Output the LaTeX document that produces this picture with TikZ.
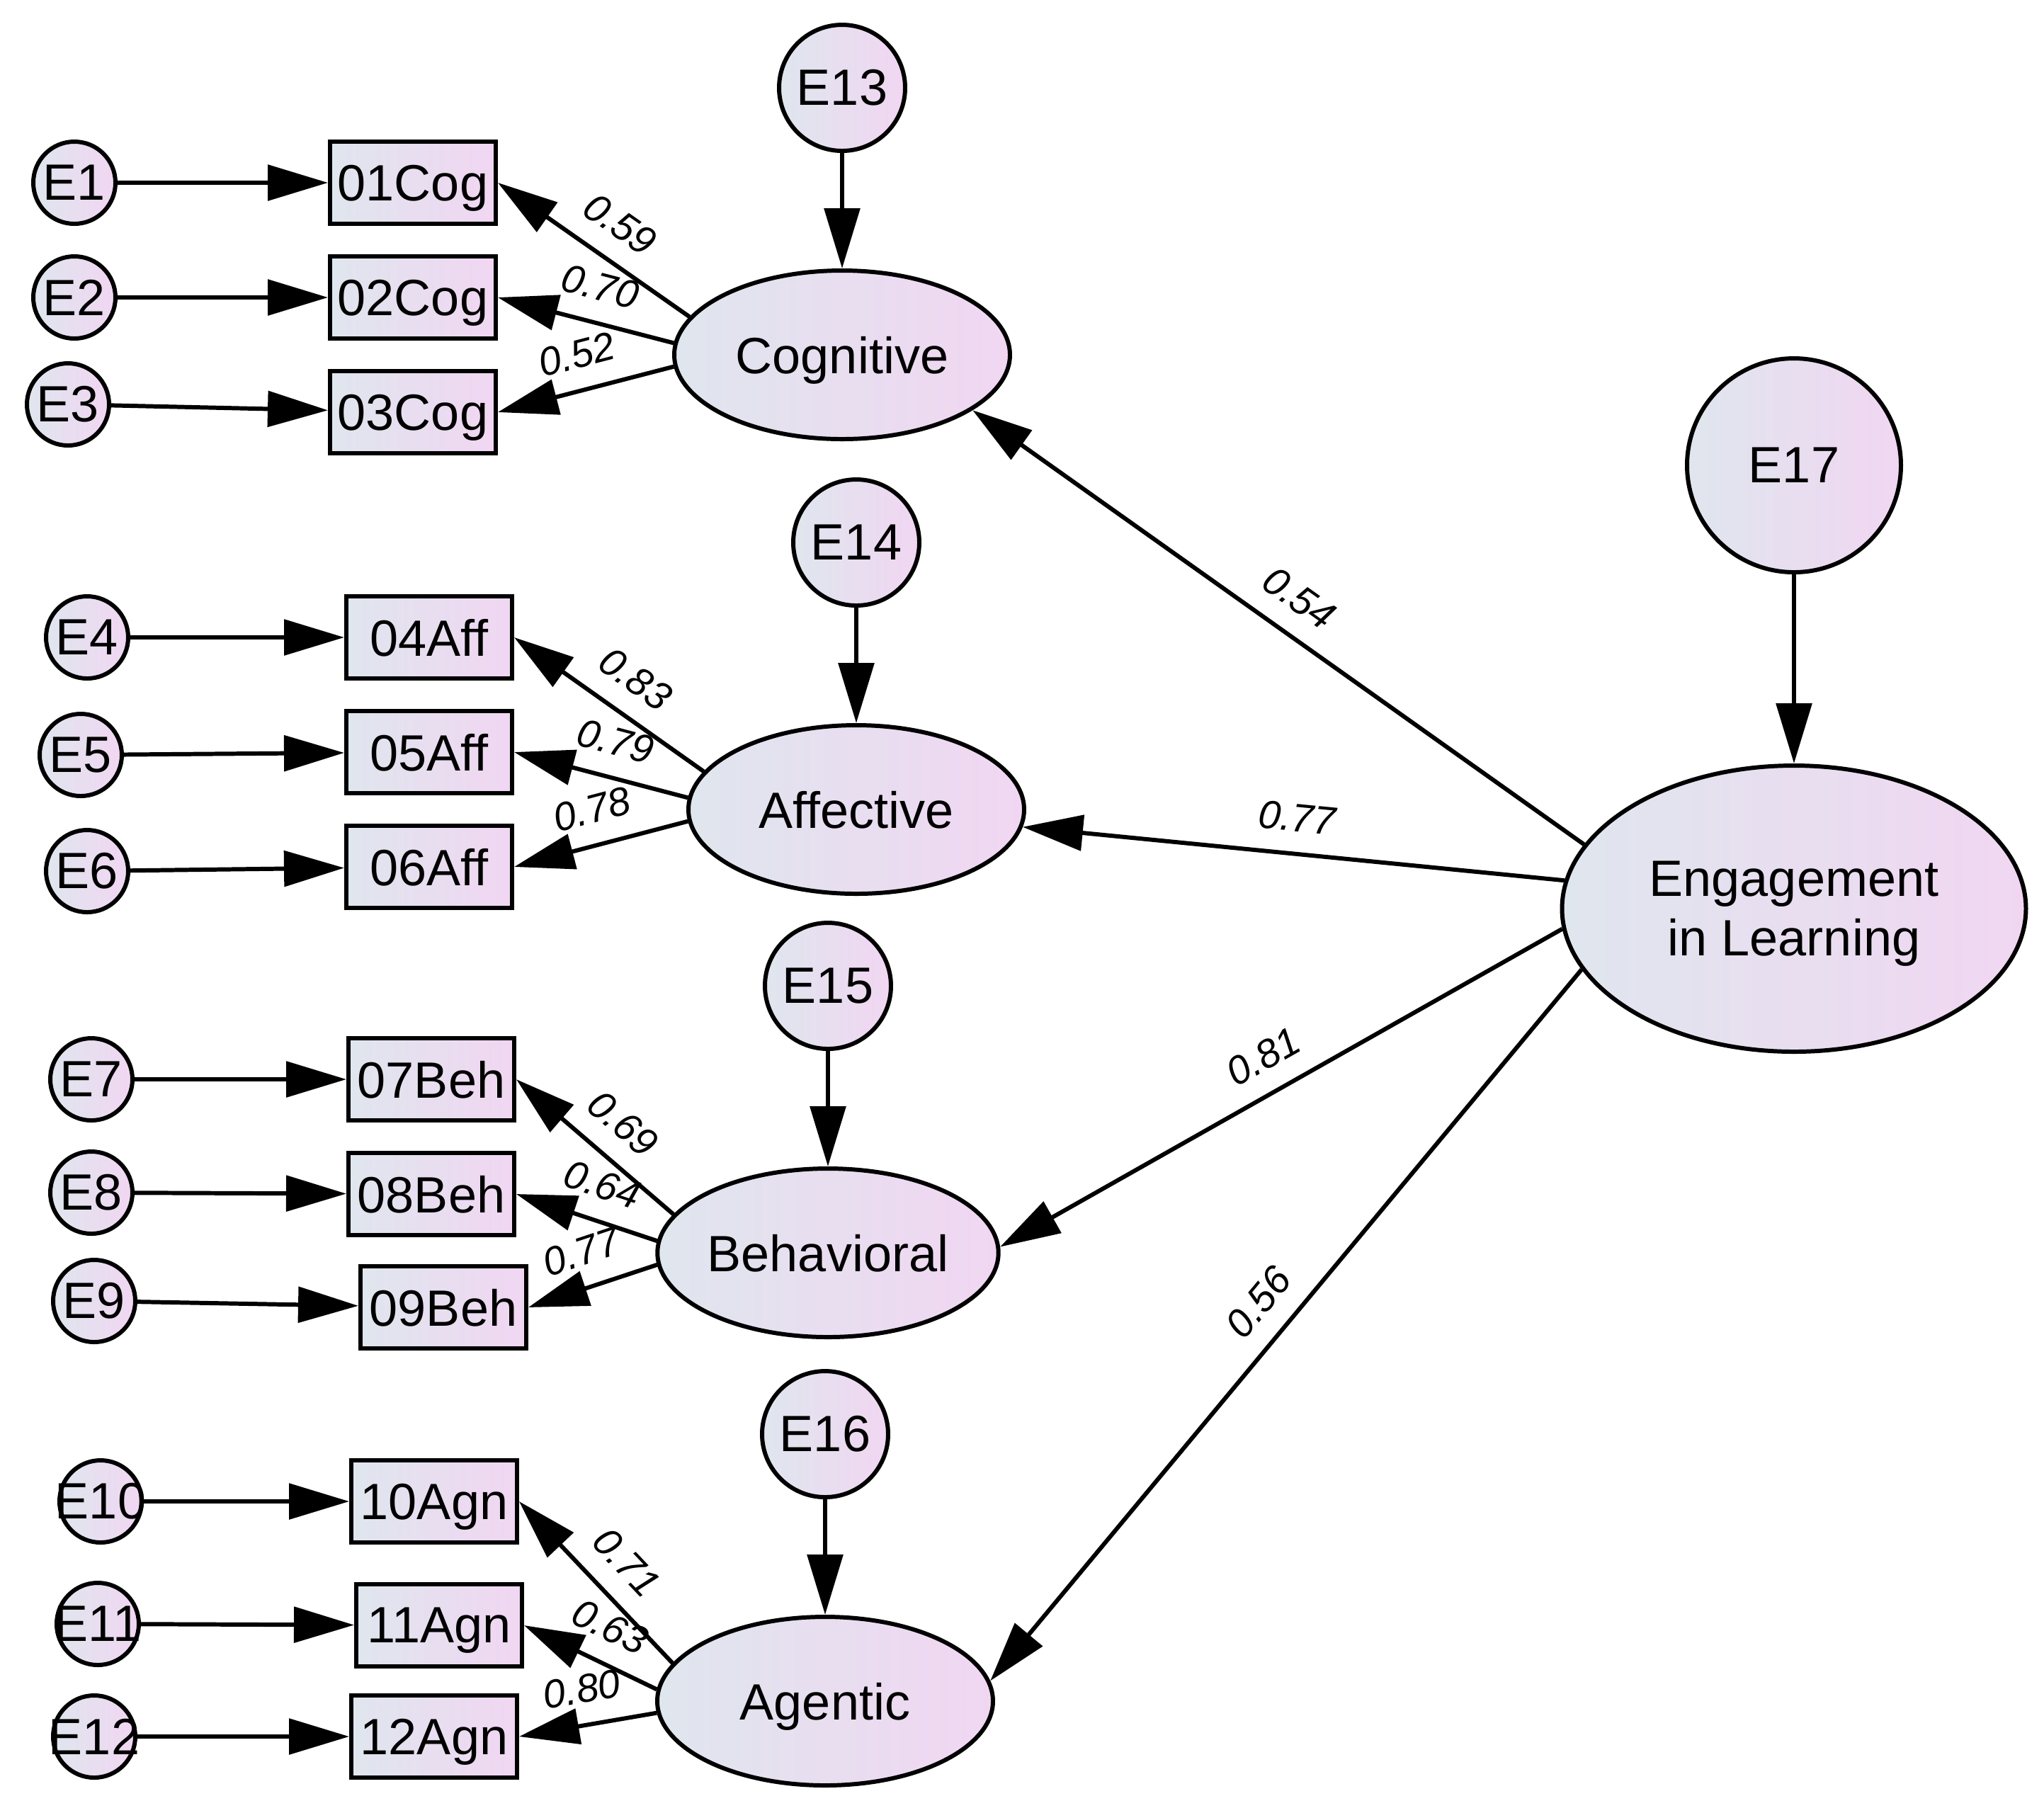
\documentclass[tikz,border=0pt]{standalone}
\usepackage{fontspec}
\setmainfont{Liberation Sans}
\usepackage{xcolor}
\usepackage{tikz}
\usetikzlibrary{arrows.meta,positioning,shapes.geometric}

\definecolor{lblue}{HTML}{DFE6EE}
\definecolor{lpink}{HTML}{F1D6F2}

\begin{document}
\begin{tikzpicture}[
  font=\fontsize{20.5}{24}\selectfont,
  latent/.style={draw,ellipse,line width=1.7pt,left color=lblue,right color=lpink,minimum width=4.74cm,minimum height=2.38cm,inner sep=0pt,text depth=0pt},
  err/.style={draw,circle,line width=1.7pt,left color=lblue,right color=lpink,minimum size=1.16cm,inner sep=0pt},
  bigerr/.style={err,minimum size=1.78cm},
  item/.style={draw,rectangle,line width=1.7pt,left color=lblue,right color=lpink,minimum width=2.34cm,minimum height=1.16cm,inner sep=0pt,text depth=0pt},
  arr/.style={-{Triangle[length=0.85cm,width=0.5cm]},line width=1.7pt},
  coef/.style={font=\fontsize{16}{19}\selectfont\itshape,sloped,above=6pt,inner sep=2pt}
]
\useasboundingbox (0,0) rectangle (28.86,-25.59);

\node[latent] (cog) at (11.89,-5.01) {Cognitive};
\node[latent] (aff) at (12.09,-11.43) {Affective};
\node[latent] (beh) at (11.69,-17.69) {Behavioral};
\node[latent] (agn) at (11.65,-24.02) {Agentic};
\node[latent,minimum width=6.55cm,minimum height=4.04cm,align=center] (eng) at (25.33,-12.83) {Engagement\\in Learning};

\node[bigerr,above=1.63cm of cog] (e13) {E13};
\node[bigerr,above=1.63cm of aff] (e14) {E14};
\node[bigerr,above=1.63cm of beh] (e15) {E15};
\node[bigerr,above=1.63cm of agn] (e16) {E16};
\node[bigerr,minimum size=3.02cm,above=2.67cm of eng] (e17) {E17};

\node[item] (c1) at (5.83,-2.58) {01Cog};
\node[item] (c2) at (5.83,-4.20) {02Cog};
\node[item] (c3) at (5.83,-5.82) {03Cog};
\node[item] (a4) at (6.06,-9.00) {04Aff};
\node[item] (a5) at (6.06,-10.62) {05Aff};
\node[item] (a6) at (6.06,-12.24) {06Aff};
\node[item] (b7) at (6.09,-15.24) {07Beh};
\node[item] (b8) at (6.09,-16.86) {08Beh};
\node[item] (b9) at (6.26,-18.46) {09Beh};
\node[item] (g10) at (6.13,-21.20) {10Agn};
\node[item] (g11) at (6.20,-22.95) {11Agn};
\node[item] (g12) at (6.13,-24.52) {12Agn};

\node[err] (e1) at (1.05,-2.58) {E1};
\node[err] (e2) at (1.05,-4.20) {E2};
\node[err] (e3) at (0.96,-5.71) {E3};
\node[err] (e4) at (1.23,-9.00) {E4};
\node[err] (e5) at (1.14,-10.66) {E5};
\node[err] (e6) at (1.23,-12.30) {E6};
\node[err] (e7) at (1.29,-15.24) {E7};
\node[err] (e8) at (1.29,-16.84) {E8};
\node[err] (e9) at (1.33,-18.37) {E9};
\node[err] (e10) at (1.42,-21.20) {\makebox[0pt]{E10}};
\node[err] (e11) at (1.38,-22.93) {\makebox[0pt]{E11}};
\node[err] (e12) at (1.33,-24.52) {\makebox[0pt]{E12}};

\draw[arr] (e1) -- (c1);
\draw[arr] (e2) -- (c2);
\draw[arr] (e3) -- (c3);
\draw[arr] (e4) -- (a4);
\draw[arr] (e5) -- (a5);
\draw[arr] (e6) -- (a6);
\draw[arr] (e7) -- (b7);
\draw[arr] (e8) -- (b8);
\draw[arr] (e9) -- (b9);
\draw[arr] (e10) -- (g10);
\draw[arr] (e11) -- (g11);
\draw[arr] (e12) -- (g12);

\draw[arr] (e13) -- (cog);
\draw[arr] (e14) -- (aff);
\draw[arr] (e15) -- (beh);
\draw[arr] (e16) -- (agn);
\draw[arr] (e17) -- (eng);

\draw[arr] (cog.166) -- node[coef,pos=0.47] {0.59} (c1.east);
\draw[arr] (cog.176) -- node[coef,pos=0.47] {0.70} (c2.east);
\draw[arr] (cog.184) -- node[coef,pos=0.5] {0.52} (c3.east);
\draw[arr] (aff.166) -- node[coef,pos=0.47] {0.83} (a4.east);
\draw[arr] (aff.176) -- node[coef,pos=0.47] {0.79} (a5.east);
\draw[arr] (aff.184) -- node[coef,pos=0.5] {0.78} (a6.east);
\draw[arr] (beh.166) -- node[coef,pos=0.47] {0.69} (b7.east);
\draw[arr] (beh.176) -- node[coef,pos=0.47] {0.64} (b8.east);
\draw[arr] (beh.184) -- node[coef,pos=0.5] {0.77} (b9.east);
\draw[arr] (agn.166) -- node[coef,pos=0.47] {0.71} (g10.east);
\draw[arr] (agn.176) -- node[coef,pos=0.47] {0.63} (g11.east);
\draw[arr] (agn.184) -- node[coef,pos=0.5] {0.80} (g12.east);

\draw[arr] (eng.163) -- node[coef,pos=0.5] {0.54} (cog.337);
\draw[arr] (eng.173) -- node[coef,pos=0.5] {0.77} (aff.354);
\draw[arr] (eng.185) -- node[coef,pos=0.5] {0.81} (beh.2);
\draw[arr] (eng.196) -- node[coef,pos=0.5] {0.56} (agn.7);

\end{tikzpicture}
\end{document}
